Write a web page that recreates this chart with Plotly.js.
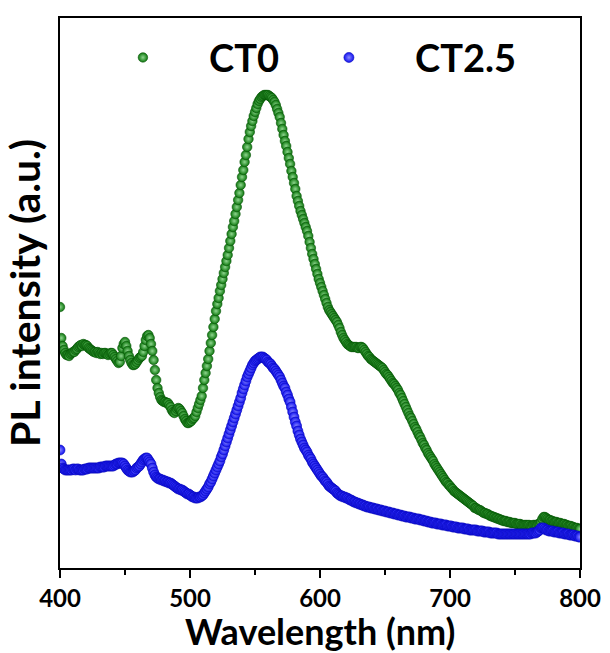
<!DOCTYPE html>
<html>
<head>
<meta charset="utf-8">
<script src="https://cdn.plot.ly/plotly-3.0.1.min.js"></script>
<style>html,body{margin:0;padding:0;background:#fff;}#chart{width:610px;height:653px;}</style>
</head>
<body>
<div id="chart"></div>
<script>
// Wavelength grid: 400 nm to 800 nm, 1 nm per reading
const WL_START = 400;
const WL_STEP = 1;

// PL intensity (a.u.), one value per nm from 400 to 800
const ct0 = [
261,230,222,218,215,213,213,212,214,215,216,216,218,219,221,222,223,222,224,223,
223,222,220,219,218,217,216,216,215,216,215,214,215,214,215,215,214,213,214,215,
215,213,211,209,207,205,206,212,220,224,226,222,217,212,208,205,203,203,204,206,
208,210,211,212,216,222,228,232,233,230,224,217,208,198,188,180,175,171,168,167,
166,166,165,165,163,161,158,156,155,157,159,160,159,157,155,152,149,147,145,145,
146,147,149,150,152,156,160,164,168,172,180,188,195,202,209,217,225,233,241,249,
257,264,270,277,283,289,295,301,307,313,320,327,334,341,347,354,361,368,375,383,
391,398,406,413,421,429,436,442,447,452,456,460,464,467,469,471,472,473,473,473,
473,472,471,470,468,466,463,459,455,451,445,439,433,427,422,416,410,404,397,391,
385,379,372,367,362,357,353,349,345,341,337,332,326,320,314,309,304,299,294,289,
285,281,277,273,269,265,261,258,256,254,252,250,248,246,243,240,236,233,230,228,
226,224,223,222,221,221,221,221,221,220,220,221,221,220,218,216,214,212,211,209,
208,207,206,205,204,203,202,201,200,198,196,194,193,191,189,187,185,184,182,180,
178,175,173,170,167,164,161,158,155,152,150,147,144,141,139,136,133,131,128,125,
123,120,118,115,113,111,109,107,104,102,100,98,96,94,92,90,88,86,85,83,
82,80,79,77,76,75,74,73,72,71,70,69,68,67,66,65,64,63,62,60,
60,59,58,58,57,56,55,55,54,54,53,52,52,51,51,50,50,49,49,48,
48,47,47,47,46,46,46,45,45,45,45,44,44,44,44,43,43,43,43,43,
43,43,42,42,43,43,43,43,44,44,46,49,51,51,50,49,48,48,47,47,
46,46,46,45,45,45,44,44,44,43,43,42,42,42,41,41,40,40,40,39,
39
];

const ct25 = [
118,104,100,99,98,98,98,98,98,98,99,99,98,99,99,98,98,98,98,99,
99,99,100,100,100,100,100,100,100,100,100,101,101,101,101,102,102,102,102,102,
102,102,103,104,104,105,105,105,105,104,102,100,98,97,96,96,96,97,98,100,
101,102,104,106,108,109,110,110,108,106,104,100,96,93,91,90,89,89,88,88,
87,87,86,86,85,85,84,83,82,81,80,79,79,78,78,77,76,75,74,74,
73,72,71,71,70,70,70,71,71,72,73,75,77,79,81,84,86,89,92,95,
98,101,104,107,111,114,118,122,126,130,134,138,142,146,150,154,158,162,166,170,
175,179,183,187,191,194,197,200,203,205,207,208,209,210,211,211,211,210,209,208,
206,205,204,202,200,199,197,195,193,191,188,185,182,180,176,173,169,166,161,156,
151,146,142,137,133,129,126,123,120,118,116,113,111,109,106,104,102,100,98,96,
94,92,91,89,87,86,84,82,81,80,79,78,77,75,74,73,72,72,71,71,
70,70,69,68,68,67,66,66,65,65,64,64,63,63,62,62,61,61,61,60,
60,60,59,59,59,58,58,58,57,57,57,56,56,56,55,55,55,54,54,54,
53,53,53,52,52,52,51,51,51,51,50,50,50,49,49,49,49,48,48,48,
47,47,47,46,46,46,45,45,45,45,44,44,44,44,43,43,43,43,42,42,
42,42,41,41,41,41,40,40,40,40,40,39,39,39,39,38,38,38,38,38,
38,37,37,37,37,37,36,36,36,36,36,35,35,35,35,35,35,34,34,34,
34,34,34,34,34,34,34,34,34,34,34,34,34,34,34,34,34,34,34,34,
34,34,34,35,35,35,35,36,37,38,40,40,40,39,38,38,37,37,37,37,
36,36,36,36,35,35,35,35,34,34,34,34,33,33,33,33,32,32,32,31,
31
];

const seriesNames = ['\u00a0\u00a0\u00a0\u00a0\u00a0CT0', '\u00a0\u00a0\u00a0\u00a0\u00a0CT2.5'];
const xTicks = [400, 500, 600, 700, 800];
const xTitle = 'Wavelength (nm)';
const yTitle = 'PL intensity (a.u.)';

const FONT = 'Lato, "Open Sans", sans-serif';

const traces = [
  {
    type: 'scatter', mode: 'markers', name: seriesNames[0],
    x0: WL_START, dx: WL_STEP, y: ct0,
    marker: {size: 9.5, color: '#0c760c', gradient: {type: 'radial', color: '#8fd68f'},
             line: {color: '#085508', width: 0.6}}
  },
  {
    type: 'scatter', mode: 'markers', name: seriesNames[1],
    x0: WL_START, dx: WL_STEP, y: ct25,
    marker: {size: 10, color: '#1010f0', gradient: {type: 'radial', color: '#8a8aff'},
             line: {color: '#0808b8', width: 0.6}}
  }
];

const layout = {
  width: 610, height: 653,
  margin: {l: 60, r: 30, t: 18, b: 85},
  paper_bgcolor: '#fff', plot_bgcolor: '#fff',
  font: {family: FONT, color: '#000'},
  showlegend: true,
  legend: {
    orientation: 'h', x: 0.121, y: 0.985, xanchor: 'left', yanchor: 'top',
    font: {family: FONT, size: 38, color: '#000', weight: 'bold'},
    bgcolor: 'rgba(0,0,0,0)', entrywidth: 161, entrywidthmode: 'pixels'
  },
  xaxis: {
    range: [400, 800], tickvals: xTicks, ticktext: xTicks.map(String),
    ticks: 'outside', ticklen: 8, tickwidth: 2, tickcolor: '#000',
    minor: {dtick: 50, tick0: 400, ticks: 'outside', ticklen: 5, tickwidth: 2, tickcolor: '#000'},
    showline: true, linewidth: 2, linecolor: '#000', mirror: true,
    showgrid: false, zeroline: false,
    tickfont: {family: FONT, size: 24, color: '#000', weight: 'bold'}
  },
  yaxis: {
    range: [0, 550], showticklabels: false, ticks: '',
    showline: true, linewidth: 2, linecolor: '#000', mirror: true,
    showgrid: false, zeroline: false,
    title: {text: yTitle, font: {family: FONT, size: 41, color: '#000', weight: 'bold'}, standoff: 8}
  },
  annotations: [{
    text: xTitle, xref: 'paper', yref: 'paper', x: 0.5, y: 0,
    xanchor: 'center', yanchor: 'middle', yshift: -63, showarrow: false, borderpad: 0,
    font: {family: FONT, size: 36, color: '#000', weight: 'bold'}
  }]
};

Plotly.newPlot('chart', traces, layout, {displayModeBar: false, staticPlot: true});
</script>
</body>
</html>
